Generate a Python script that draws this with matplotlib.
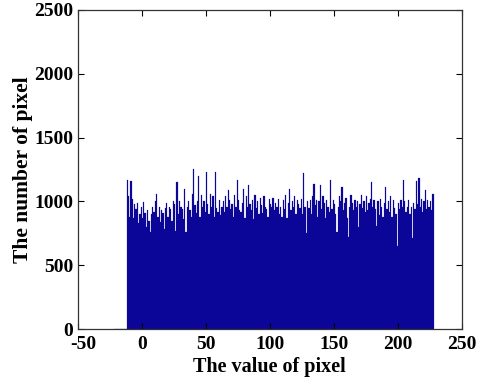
import numpy as np
import matplotlib
matplotlib.use("Agg")
import matplotlib.pyplot as plt
from matplotlib.transforms import ScaledTranslation

# pixel values (one bin per integer value), leading empty bins give the flat baseline
pixel_values = np.arange(-22, 228)
counts = [0] * 10 + [
    1170, 1040, 880, 1160, 1020, 870, 980, 940, 990, 830, 900, 960, 870, 995, 910, 800, 930, 850, 760, 900,
    960, 920, 1000, 1060, 880, 960, 840, 930, 910, 780, 950, 990, 880, 960, 940, 850, 1000, 980, 770, 1150,
    900, 1000, 960, 940, 860, 1100, 760, 960, 1000, 930, 880, 1060, 1250, 970, 910, 1000, 1200, 880, 1050, 960,
    1000, 920, 1230, 980, 900, 1060, 960, 1040, 880, 1230, 950, 920, 1010, 890, 960, 1000, 920, 1040, 960, 1090,
    1010, 940, 980, 880, 1050, 960, 1170, 1010, 930, 920, 990, 1100, 870, 1040, 960, 1130, 980, 930, 1010, 860,
    1050, 950, 1000, 900, 1030, 970, 910, 1040, 960, 940, 880, 1020, 980, 960, 1030, 930, 990, 960, 1020, 900,
    960, 880, 1010, 940, 1050, 870, 990, 1100, 930, 1000, 960, 1040, 900, 1010, 980, 950, 1020, 900, 1220, 960,
    750, 1000, 950, 1010, 900, 1040, 1140, 970, 1010, 880, 1000, 1130, 940, 1040, 990, 870, 1010, 960, 920, 1170,
    940, 1010, 980, 900, 760, 960, 1040, 1000, 1110, 930, 990, 1030, 870, 720, 960, 1050, 990, 930, 1010, 960,
    1000, 800, 980, 1050, 950, 1000, 920, 1040, 930, 990, 1020, 1150, 960, 1010, 940, 810, 1000, 890, 1020, 960,
    880, 990, 1110, 940, 1000, 920, 1040, 880, 1010, 950, 900, 650, 990, 940, 1010, 960, 1170, 1000, 920, 960,
    1010, 900, 960, 710, 990, 940, 1160, 980, 1180, 960, 1020, 920, 1000, 1090, 940, 1010, 960, 1000, 930, 1060,
]

x_ticks = [-50, 0, 50, 100, 150, 200, 250]
y_ticks = [0, 500, 1000, 1500, 2000, 2500]

plt.rcParams['font.family'] = 'Liberation Serif'
plt.rcParams['font.weight'] = 'bold'
plt.rcParams['axes.unicode_minus'] = False

fig = plt.figure(figsize=(4.81, 3.80), dpi=100)
ax = fig.add_axes([0.162, 0.134, 0.798, 0.840])

ax.bar(pixel_values, counts, width=1.0, align='edge', color='#0b0697',
       edgecolor='#0b0697', linewidth=0.15)

ax.set_xlim(-50, 250)
ax.set_ylim(0, 2500)
ax.set_xticks(x_ticks)
ax.set_yticks(y_ticks)
ax.tick_params(direction='in', top=True, right=True, labelsize=14, length=4, width=0.8)
ax.tick_params(axis='x', pad=5)
for lab in ax.get_xticklabels() + ax.get_yticklabels():
    lab.set_fontweight('bold')
# MATLAB-like corner: the -50 label sits slightly right of the corner
first = ax.get_xticklabels()[0]
first.set_transform(first.get_transform() + ScaledTranslation(4 / 72, 0, fig.dpi_scale_trans))
for s in ax.spines.values():
    s.set_linewidth(0.9)
    s.set_color('#333333')

ax.set_xlabel('The value of pixel', fontsize=14.5, fontweight='bold', labelpad=3)
ax.set_ylabel('The number of pixel', fontsize=15.5, fontweight='bold', labelpad=1)

fig.savefig('out.png', dpi=100)
